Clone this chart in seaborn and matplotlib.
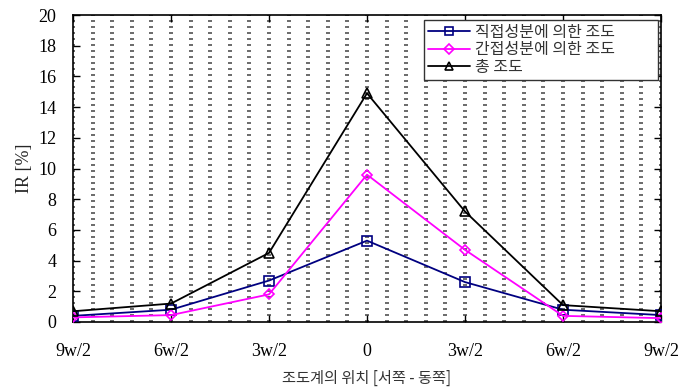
import numpy as np
import pandas as pd
import matplotlib
matplotlib.use("Agg")
import matplotlib.pyplot as plt
import seaborn as sns

# Meter positions (in units of w) and their tick labels
positions = [-4.5, -3.0, -1.5, 0.0, 1.5, 3.0, 4.5]
pos_labels = ["9w/2", "6w/2", "3w/2", "0", "3w/2", "6w/2", "9w/2"]

# Illuminance ratio [%] per component
direct = [0.4, 0.8, 2.7, 5.3, 2.6, 0.8, 0.45]
indirect = [0.3, 0.45, 1.8, 9.6, 4.7, 0.4, 0.25]
total = [0.7, 1.2, 4.5, 14.9, 7.2, 1.1, 0.7]

series_names = ["직접성분에 의한 조도", "간접성분에 의한 조도", "총 조도"]

sns.set_theme(style="white")
plt.rcParams["font.family"] = ["Liberation Serif", "Noto Sans CJK KR"]
plt.rcParams["axes.unicode_minus"] = False

df = pd.DataFrame({
    "pos": positions * 3,
    "IR": direct + indirect + total,
    "series": [series_names[0]] * 7 + [series_names[1]] * 7 + [series_names[2]] * 7,
})

fig = plt.figure(figsize=(6.82, 3.91), dpi=100)
ax = fig.add_axes([73 / 682, 1 - 322 / 391, (661 - 73) / 682, (322 - 15) / 391])

# dotted vertical guide lines at every fifth of a tick interval
for xv in np.arange(-4.5, 4.5001, 0.3):
    ax.axvline(xv, color="#6e6e6e", lw=2.9, linestyle=(0, (0.48, 1.02)),
               antialiased=False, zorder=0.5)

palette = {series_names[0]: "#000080", series_names[1]: "#FF00FF",
           series_names[2]: "#000000"}
markers = {series_names[0]: "s", series_names[1]: "D", series_names[2]: "^"}

sns.lineplot(data=df, x="pos", y="IR", hue="series", style="series",
             palette=palette, markers=markers, dashes=False,
             markersize=7, markerfacecolor="none", markeredgewidth=1.2,
             linewidth=1.3, ax=ax, legend=False, zorder=3)
# open markers keep their series colour on the edge
for line, name in zip(ax.get_lines()[-3:], series_names):
    line.set_markeredgecolor(palette[name])
    line.set_markerfacecolor("none")
ax.get_lines()[-2].set_markersize(5)

ax.set_xlim(-4.5, 4.5)
ax.set_ylim(0, 20)
ax.set_xticks(positions)
ax.set_xticklabels(pos_labels, fontsize=13)
ax.set_yticks(np.arange(0, 21, 2))
ax.set_yticklabels([str(v) for v in range(0, 21, 2)], fontsize=13)
ax.tick_params(axis="both", direction="in", length=5, width=1.0,
               top=True, right=True, bottom=True, left=True, colors="black")
ax.tick_params(axis="x", pad=15)
ax.tick_params(axis="y", pad=12)
for s in ax.spines.values():
    s.set_color("black")
    s.set_linewidth(1.2)

ax.set_xlabel("조도계의 위치 [서쪽 - 동쪽]", fontsize=11,
              family=["Noto Sans CJK KR", "DejaVu Sans"], color="#333333",
              labelpad=7)
ax.set_ylabel("IR [%]", fontsize=13, labelpad=4)

handles = []
for name in series_names:
    h, = ax.plot([], [], color=palette[name], marker=markers[name],
                 markerfacecolor="none", markeredgecolor=palette[name],
                 markersize=6 if name != series_names[1] else 5,
                 markeredgewidth=1.2, lw=1.3)
    handles.append(h)
# legend box spans a fixed region of the upper right corner
leg = ax.legend(handles, series_names, loc="upper left", mode="expand",
                bbox_to_anchor=(0.597, 0.7915, 0.398, 0.192),
                frameon=True, fancybox=False,
                edgecolor="#333333", framealpha=1, borderpad=0.25,
                labelspacing=0.02, handlelength=2.6, handletextpad=0.35,
                borderaxespad=0.0,
                prop={"family": ["Noto Sans CJK KR", "DejaVu Sans"],
                      "size": 11.5})
leg.get_frame().set_linewidth(1.0)
for t in leg.get_texts():
    t.set_color("#333333")

fig.savefig("out.png", dpi=100)
